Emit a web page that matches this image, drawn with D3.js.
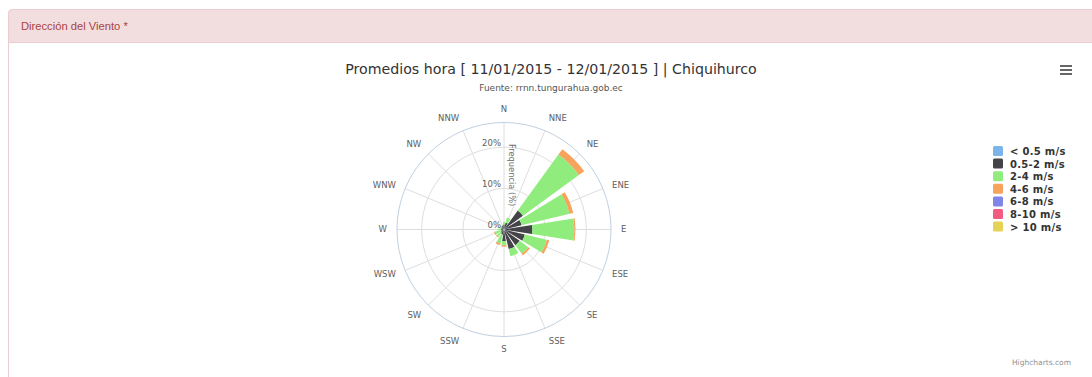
<!DOCTYPE html>
<html>
<head>
<meta charset="utf-8">
<script src="https://cdn.jsdelivr.net/npm/d3@7"></script>
<style>
  html, body { margin: 0; padding: 0; background: #fff; overflow: hidden; }
  svg { display: block; }
</style>
</head>
<body>
<svg id="page" width="1092" height="377"></svg>
<script>
// ---- data: hourly wind frequency (%) by direction and speed bin ----
const directions = ["N", "NNE", "NE", "ENE", "E", "ESE", "SE", "SSE",
                    "S", "SSW", "SW", "WSW", "W", "WNW", "NW", "NNW"];

const speedBins = ["< 0.5 m/s", "0.5-2 m/s", "2-4 m/s", "4-6 m/s",
                   "6-8 m/s", "8-10 m/s", "> 10 m/s"];

const freqBelow05 = [0.2, 0.2, 0.2, 0.2, 0.3, 0.2, 0.3, 0.3, 0.3, 0.3, 0.2, 0.2, 0.2, 0.2, 0.2, 0.2];
const freq05to2   = [1.0, 1.5, 5.5, 4.2, 6.6, 5.0, 4.4, 4.6, 2.5, 1.0, 0.8, 0.5, 0.5, 0.5, 0.6, 0.8];
const freq2to4    = [0.6, 1.3, 16.8, 12.0, 10.2, 5.5, 2.6, 1.8, 1.0, 2.2, 1.2, 1.5, 0.8, 0.3, 0.2, 0.2];
const freq4to6    = [0.0, 0.0, 1.6, 0.9, 0.3, 0.6, 0.5, 0.0, 0.4, 0.4, 0.2, 0.3, 0.0, 0.0, 0.0, 0.0];
const freq6to8    = [0, 0, 0, 0, 0, 0, 0, 0, 0, 0, 0, 0, 0, 0, 0, 0];
const freq8to10   = [0, 0, 0, 0, 0, 0, 0, 0, 0, 0, 0, 0, 0, 0, 0, 0];
const freqAbove10 = [0, 0, 0, 0, 0, 0, 0, 0, 0, 0, 0, 0, 0, 0, 0, 0];

const radialTicks = [0, 10, 20];

const chartTitle = "Promedios hora [ 11/01/2015 - 12/01/2015 ] | Chiquihurco";
const chartSubtitle = "Fuente: rrnn.tungurahua.gob.ec";
const panelTitle = "Dirección del Viento *";

// ---- styling ----
const seriesColors = ["#7cb5ec", "#434348", "#90ed7d", "#f7a35c", "#8085e9", "#f15c80", "#e4d354"];
const labelFont = "'DejaVu Sans', 'Lucida Grande', Verdana, sans-serif";

const seriesValues = [freqBelow05, freq05to2, freq2to4, freq4to6, freq6to8, freq8to10, freqAbove10];

const svg = d3.select("#page");

// ---- panel frame ----
svg.append("rect")
  .attr("x", 8.5).attr("y", 9.5).attr("width", 1100).attr("height", 420)
  .attr("rx", 4).attr("fill", "#fff").attr("stroke", "#ebccd1");
svg.append("path")
  .attr("d", "M8.5,42.5 V13.5 a4,4 0 0 1 4,-4 H1100 V42.5 Z")
  .attr("fill", "#f2dede").attr("stroke", "#ebccd1");
svg.append("text")
  .attr("x", 21).attr("y", 30)
  .attr("font-family", "'Liberation Sans', Arial, Helvetica, sans-serif")
  .attr("font-size", 11.2).attr("fill", "#a94442")
  .text(panelTitle);

// ---- titles ----
const titleX = 551;
svg.append("text")
  .attr("x", titleX).attr("y", 73.5)
  .attr("text-anchor", "middle")
  .attr("font-family", labelFont).attr("font-size", 14.2).attr("fill", "#333")
  .text(chartTitle);
svg.append("text")
  .attr("x", titleX).attr("y", 90.5)
  .attr("text-anchor", "middle")
  .attr("font-family", labelFont).attr("font-size", 9).attr("fill", "#555")
  .text(chartSubtitle);

// ---- polar plot ----
const cx = 504, cy = 229.5, R = 107;
const g = svg.append("g").attr("transform", `translate(${cx},${cy})`);

const step = 2 * Math.PI / directions.length;
const centerAngle = d => directions.indexOf(d) * step;
const barWidth = step * 0.8;

const radius = d3.scaleLinear().domain([0, 26]).range([0, R]);

// concentric grid
g.selectAll("circle.grid")
  .data(radialTicks.filter(t => t > 0))
  .join("circle")
  .attr("class", "grid")
  .attr("r", d => radius(d))
  .attr("fill", "none").attr("stroke", "#dedede");

// spokes
g.selectAll("line.spoke")
  .data(directions)
  .join("line")
  .attr("class", "spoke")
  .attr("x1", 0).attr("y1", 0)
  .attr("x2", d => R * Math.sin(centerAngle(d)))
  .attr("y2", d => -R * Math.cos(centerAngle(d)))
  .attr("stroke", "#dedede");

// outer ring
g.append("circle").attr("r", R).attr("fill", "none").attr("stroke", "#c0d0e0");

// stacked columns
const rows = directions.map((d, i) => {
  const row = { dir: d };
  speedBins.forEach((b, j) => { row[b] = seriesValues[j][i]; });
  return row;
});
const stacked = d3.stack().keys(speedBins)(rows);

const arc = d3.arc();
stacked.forEach((layer, j) => {
  g.append("g")
    .selectAll("path")
    .data(layer.filter(p => p[1] - p[0] > 0))
    .join("path")
    .attr("fill", seriesColors[j])
    .attr("d", p => arc({
      innerRadius: radius(p[0]),
      outerRadius: radius(p[1]),
      startAngle: centerAngle(p.data.dir) - barWidth / 2,
      endAngle: centerAngle(p.data.dir) + barWidth / 2
    }));
});

// direction labels
g.selectAll("text.dir")
  .data(directions)
  .join("text")
  .attr("class", "dir")
  .each(function (d) {
    const a = centerAngle(d);
    const s = Math.sin(a), c = Math.cos(a);
    const rr = R + 10;
    d3.select(this)
      .attr("x", rr * s)
      .attr("y", -rr * c - (c > 0.5 ? 3 : 0) + (c < -0.5 ? 3 : 0))
      .attr("dy", "0.35em")
      .attr("text-anchor", s > 0.1 ? "start" : (s < -0.1 ? "end" : "middle"));
  })
  .attr("font-family", labelFont).attr("font-size", 8.5).attr("fill", "#606060")
  .text(d => d);

// radial tick labels
g.selectAll("text.rtick")
  .data(radialTicks)
  .join("text")
  .attr("class", "rtick")
  .attr("x", -3)
  .attr("y", d => -radius(d) - 1.5)
  .attr("text-anchor", "end")
  .attr("font-family", labelFont).attr("font-size", 8.5).attr("fill", "#606060")
  .text(d => d + "%");

// radial axis title
g.append("text")
  .attr("transform", `translate(5,${-radius(13.2)}) rotate(90)`)
  .attr("text-anchor", "middle")
  .attr("font-family", labelFont).attr("font-size", 8.3).attr("fill", "#707070")
  .text("Frequencia (%)");

// ---- legend ----
const legend = svg.append("g").attr("transform", "translate(993,146)");
const item = legend.selectAll("g")
  .data(speedBins)
  .join("g")
  .attr("transform", (d, i) => `translate(0,${i * 12.6})`);
item.append("rect")
  .attr("width", 10).attr("height", 10).attr("rx", 1.5)
  .attr("fill", (d, i) => seriesColors[i]);
item.append("text")
  .attr("x", 17).attr("y", 9)
  .attr("font-family", labelFont).attr("font-size", 10).attr("font-weight", "bold")
  .attr("letter-spacing", 0.3)
  .attr("fill", "#333")
  .text(d => d);

// ---- export menu glyph ----
svg.append("g").selectAll("line")
  .data([66, 70, 74])
  .join("line")
  .attr("x1", 1060).attr("x2", 1072)
  .attr("y1", d => d).attr("y2", d => d)
  .attr("stroke", "#666").attr("stroke-width", 2);

// ---- credits ----
svg.append("text")
  .attr("x", 1071).attr("y", 365)
  .attr("text-anchor", "end")
  .attr("font-family", labelFont).attr("font-size", 7.5).attr("fill", "#909090")
  .text("Highcharts.com");
</script>
</body>
</html>
